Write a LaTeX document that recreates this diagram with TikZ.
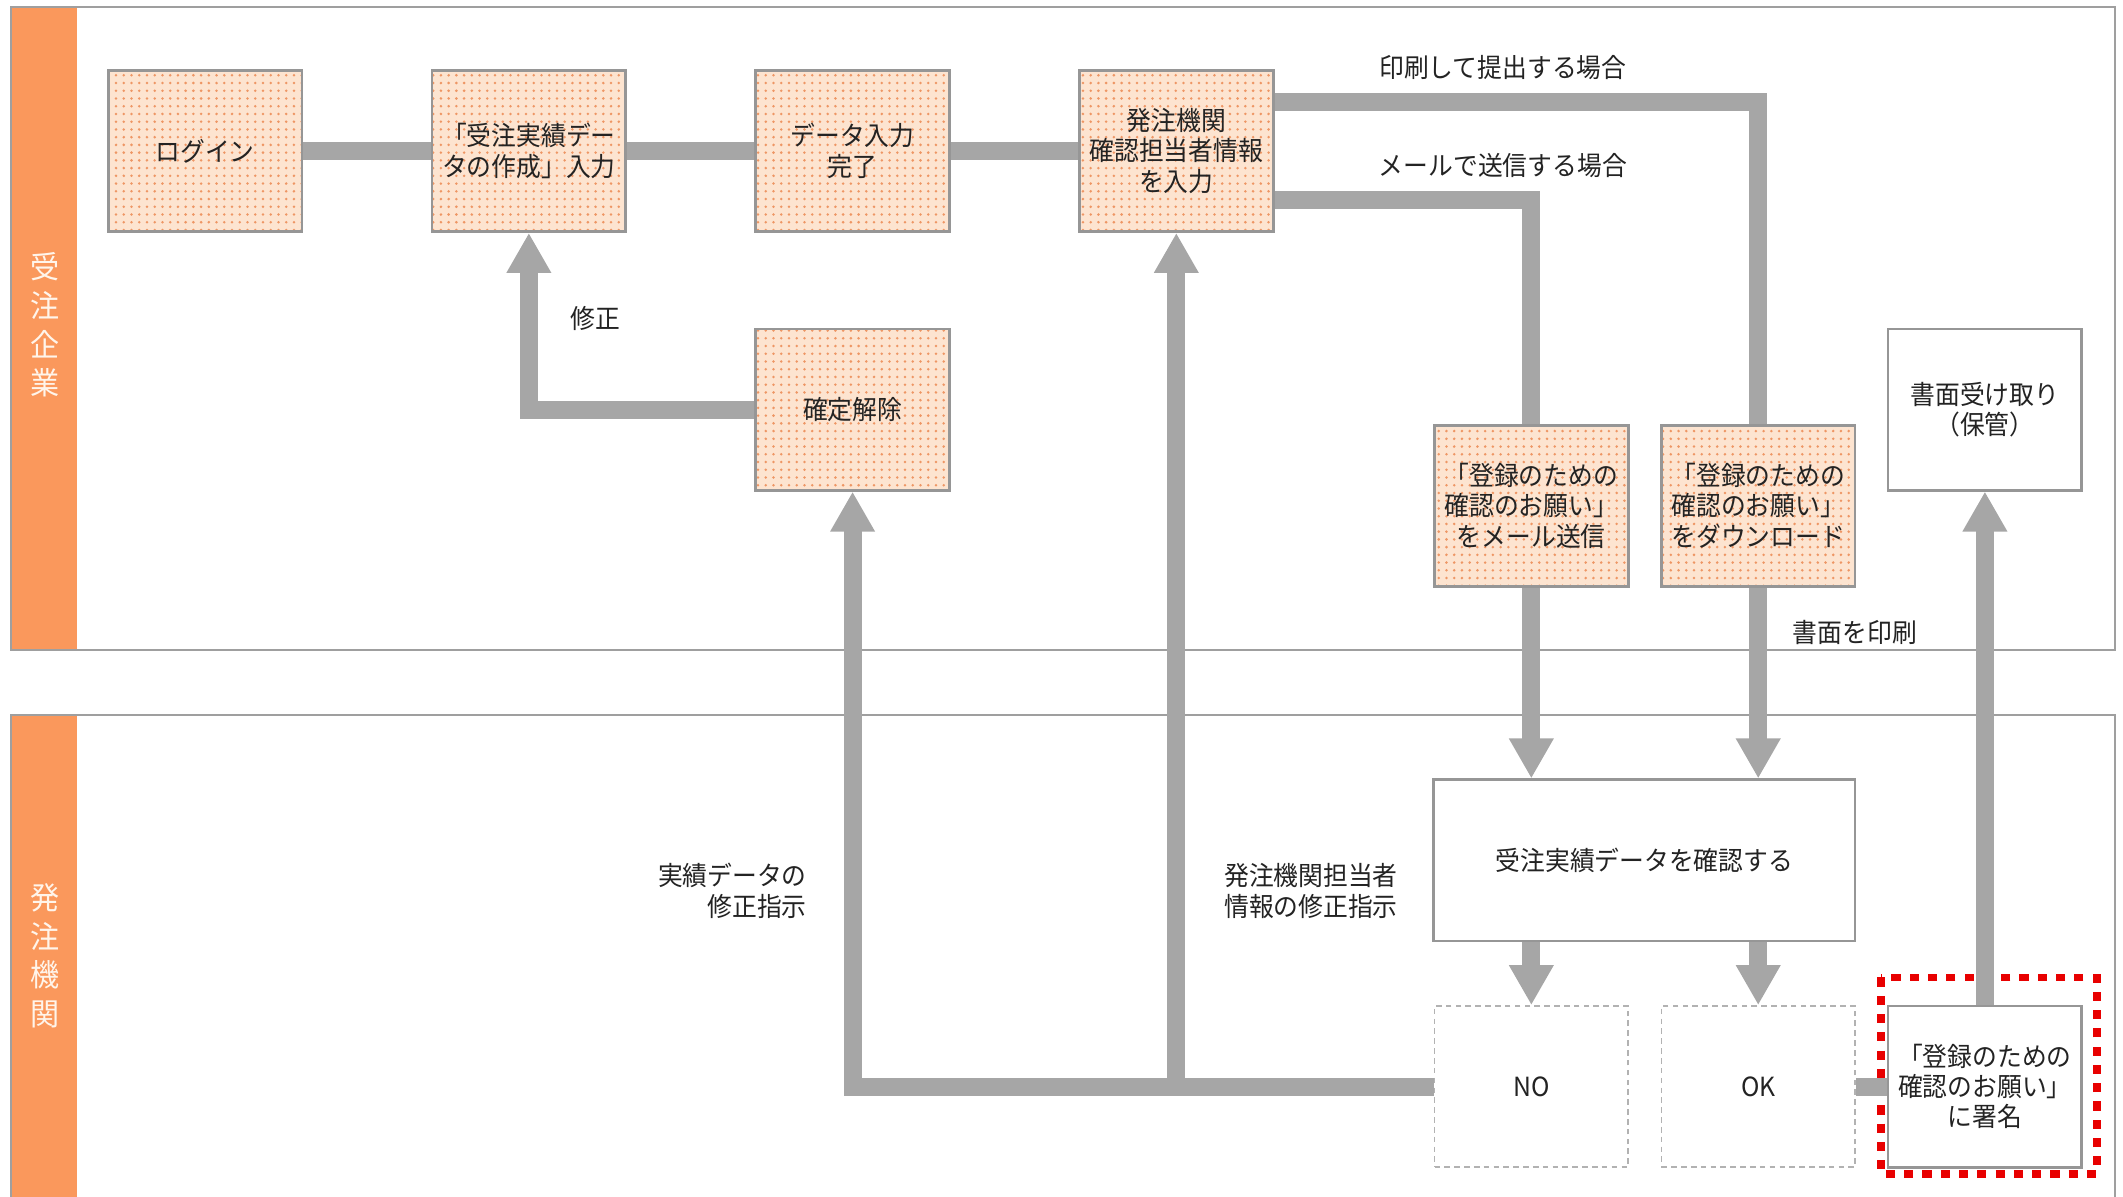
\documentclass[tikz,border=0pt]{standalone}
\usepackage{fontspec}
\newfontfamily\jpfont[FakeStretch=0.94]{Noto Sans CJK JP}
\usetikzlibrary{positioning,arrows.meta,patterns.meta,calc}
\definecolor{laneorange}{RGB}{250,152,92}
\definecolor{peach}{RGB}{253,228,208}
\definecolor{dotorange}{RGB}{238,150,100}
\definecolor{pipegray}{RGB}{166,166,166}
\definecolor{edgegray}{RGB}{150,150,150}
\definecolor{textdark}{RGB}{35,35,35}
\definecolor{markred}{RGB}{232,0,0}

\begin{document}
\begin{tikzpicture}[
  x=0.01354cm, y=-0.01354cm,
  task/.style={rectangle, draw=edgegray, line width=0.8pt, minimum width=1.936cm, minimum height=1.611cm, align=center, inner sep=1pt, preaction={fill=peach}, pattern={Dots[distance=2.2pt,radius=0.4pt]}, pattern color=dotorange},
  plain/.style={rectangle, draw=edgegray, line width=0.8pt, fill=white, minimum width=1.936cm, minimum height=1.611cm, align=center, inner sep=1pt},
  branch/.style={plain, draw=gray!60, line width=0.5pt, dash pattern=on 1.6pt off 1.2pt},
  lane/.style={draw=gray!75, line width=0.7pt},
  lanetitle/.style={text=white!92!orange, font=\jpfont\fontsize{8.8}{11}\selectfont, align=center},
  flow/.style={draw=pipegray, line width=0.18cm},
  arr/.style={flow, -{Triangle[length=0.4cm,width=0.42cm]}},
  signmark/.style={draw=markred, line width=2.2pt, dash pattern=on 2.6pt off 2.6pt},
  lbl/.style={text=textdark},
  node distance=3.236cm,
  font=\jpfont\fontsize{7.5}{8.6}\selectfont, text=textdark
]
\useasboundingbox (0,0) rectangle (1568,884);

\fill[laneorange] (8,5) rectangle (57,480);
\draw[lane] (8,5) rectangle (1562,480);
\fill[laneorange] (8,528) rectangle (57,884);
\draw[lane] (8,884) -- (8,528) -- (1562,528) -- (1562,884);
\node[lanetitle] (firm) at (33,240) {受\\注\\企\\業};
\node[lanetitle] (agency) at (33,706) {発\\注\\機\\関};

\node[task] (login) at (151.5,111.5) {ログイン};
\node[task, right of=login] (entry) {「受注実績デー\\タの作成」入力};
\node[task, right of=entry] (done) {データ入力\\完了};
\node[task, right of=done] (contact) {発注機関\\確認担当者情報\\を入力};
\node[task, below of=done, node distance=2.586cm] (unlock) {確定解除};
\node[task] (mail) at (1131,373.5) {「登録のための\\確認のお願い」\\をメール送信};
\node[task, right of=mail, node distance=2.268cm] (dl) {「登録のための\\確認のお願い」\\をダウンロード};
\node[plain] (keep) at (1466,302.5) {書面受け取り\\（保管）};
\node[plain, minimum width=4.211cm] (check) at (1214.5,635.5) {受注実績データを確認する};
\node[branch] (no) at (1131,802.5) {NO};
\node[branch, right of=no, node distance=2.268cm] (ok) {OK};
\node[plain] (sign) at (1466,802.5) {「登録のための\\確認のお願い」\\に署名};

\node[lbl] (printcase) at (1110,50) {印刷して提出する場合};
\node[lbl] (mailcase) at (1110,122) {メールで送信する場合};
\node[lbl] (fix) at (440,235) {修正};
\node[lbl] (printout) at (1370,467) {書面を印刷};
\node[lbl, align=right, anchor=east] (fixdata) at (605,658) {実績データの\\修正指示};
\node[lbl, align=left, anchor=west] (fixcontact) at (895,658) {発注機関担当者\\情報の修正指示};

\draw[signmark] ($(sign.north west)+(-4,-20)$) rectangle ($(sign.south east)+(10,4)$);

\draw[flow] (login) -- (entry);
\draw[flow] (entry) -- (done);
\draw[flow] (done) -- (contact);
\draw[flow] ([yshift=0.494cm]contact.east) -| (dl.north);
\draw[flow] ([yshift=-0.494cm]contact.east) -| (mail.north);
\draw[arr] (unlock.west) -| (entry.south);
\draw[arr] (mail.south) -- (mail.south |- check.north);
\draw[arr] (dl.south) -- (dl.south |- check.north);
\draw[arr] (check.south -| no.north) -- (no.north);
\draw[arr] (check.south -| ok.north) -- (ok.north);
\draw[arr] (no.west) -| (unlock.south);
\draw[arr] (no.west -| contact.south) -- (contact.south);
\draw[flow] (ok.east) -- (sign.west);
\draw[arr] (sign.north) -- (keep.south);
\end{tikzpicture}
\end{document}
